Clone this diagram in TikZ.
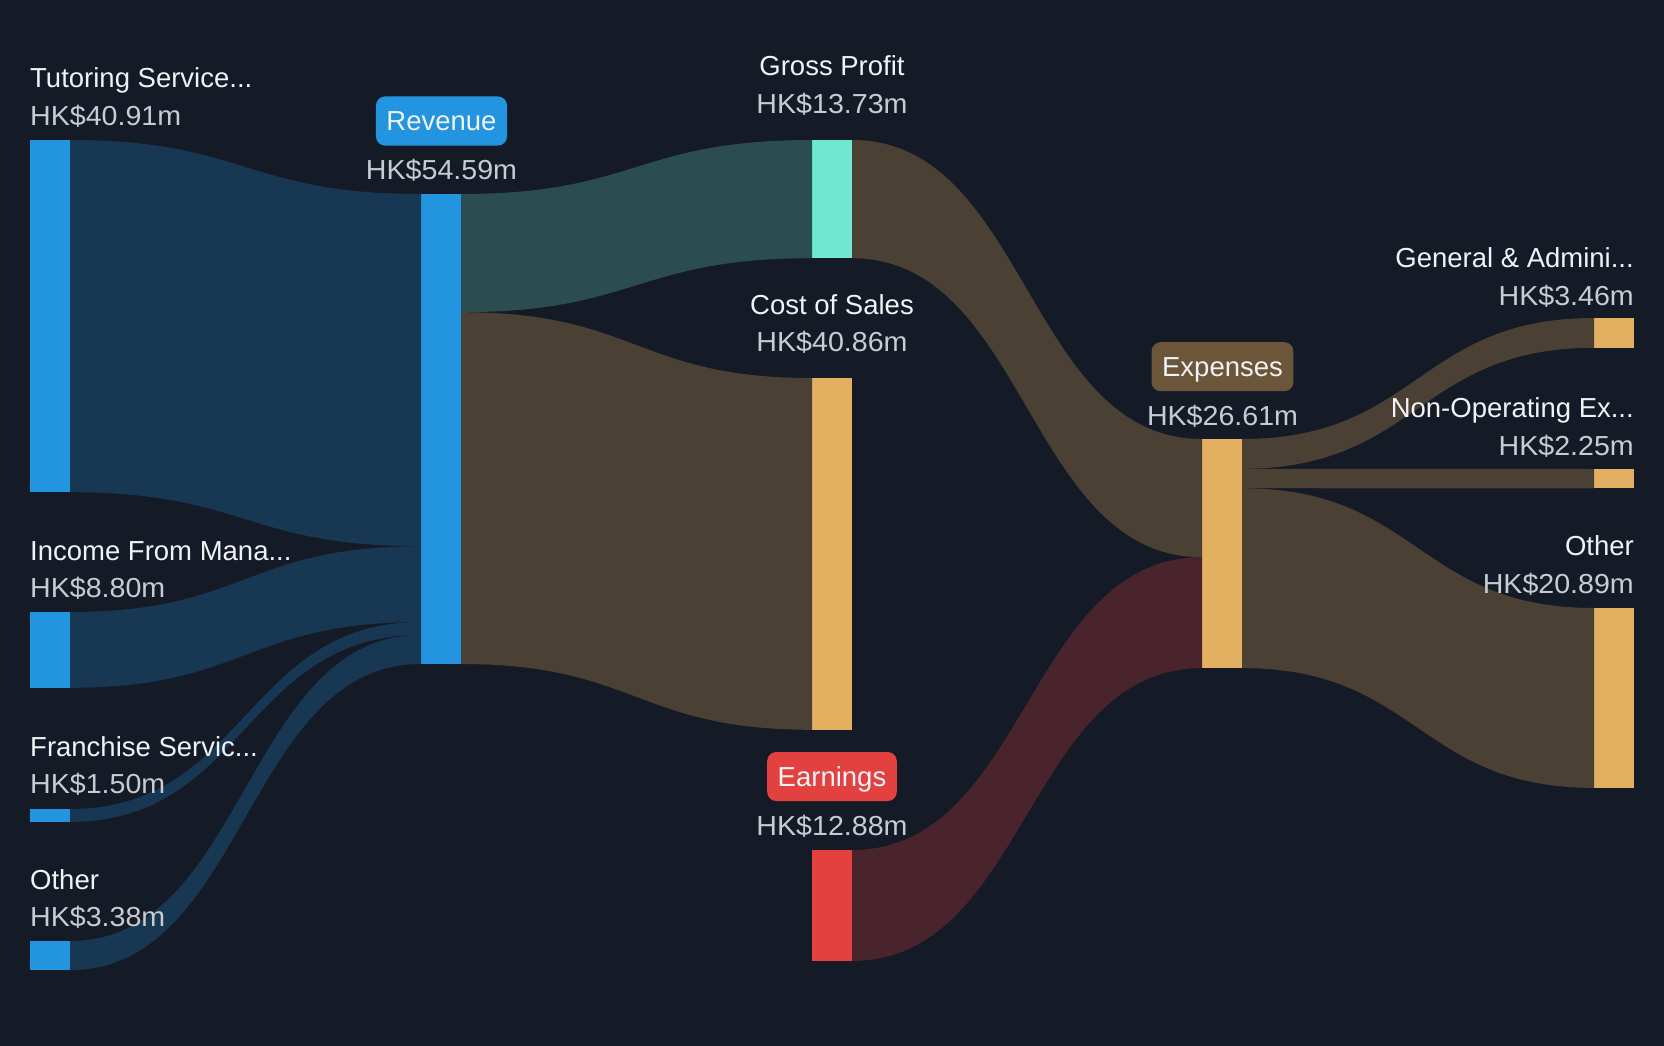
\documentclass[tikz,border=0pt]{standalone}
\usepackage{fontspec}
\setmainfont{Liberation Sans}
\newfontfamily\valfont[FakeStretch=1.04]{Liberation Sans}
\usetikzlibrary{calc}
\definecolor{bg}{HTML}{151B26}
\definecolor{bluebar}{HTML}{2394DF}
\definecolor{blueflow}{HTML}{183752}
\definecolor{tealbar}{HTML}{6EE7D3}
\definecolor{tealflow}{HTML}{2C4D50}
\definecolor{goldbar}{HTML}{E3B062}
\definecolor{brownflow}{HTML}{4A4033}
\definecolor{redbar}{HTML}{E34140}
\definecolor{redflow}{HTML}{4A242C}
\definecolor{expbox}{HTML}{6B563A}
\definecolor{ttlc}{HTML}{F0F2F5}
\definecolor{valc}{HTML}{C8CBD0}
% color, node A, offset on A, node B, offset on B, height
\newcommand\sflow[6]{%
  \fill[#1] let \p1=($(#2.north east)+(0,#3)$), \p2=($(#4.north west)+(0,#5)$),
    \p3=($(#2.north east)+(0,#3+#6)$), \p4=($(#4.north west)+(0,#5+#6)$) in
    (\p1) .. controls ({0.5*\x1+0.5*\x2},\y1) and ({0.5*\x1+0.5*\x2},\y2) .. (\p2)
    -- (\p4) .. controls ({0.5*\x1+0.5*\x2},\y4) and ({0.5*\x1+0.5*\x2},\y3) .. (\p3) -- cycle;}
\begin{document}
\begin{tikzpicture}[x=1pt,y=-1pt,
  bar/.style={rectangle,inner sep=0pt,outer sep=0pt,minimum width=40pt,anchor=north west},
  ttl/.style={inner sep=0pt,font=\fontsize{27.5}{33}\selectfont,text=ttlc},
  val/.style={inner sep=0pt,font=\valfont\fontsize{27.5}{33}\selectfont,text=valc},
  tag/.style={rectangle,rounded corners=9pt,inner xsep=10.5pt,inner ysep=0pt,
    minimum height=49pt,text height=19.7pt,text depth=0pt,text=ttlc,
    font=\fontsize{27.5}{33}\selectfont}]
\fill[bg] (0,0) rectangle (1664,1046);
\useasboundingbox (0,0) rectangle (1664,1046);
% bars
\node[bar,fill=bluebar,minimum height=352.2pt] (tut) at (30,140) {};
\node[bar,fill=bluebar,minimum height=75.8pt] (inc) at (30,612) {};
\node[bar,fill=bluebar,minimum height=12.9pt] (fra) at (30,809) {};
\node[bar,fill=bluebar,minimum height=29.1pt] (othL) at (30,941) {};
\node[bar,fill=bluebar,minimum height=470pt] (rev) at (421,194) {};
\node[bar,fill=tealbar,minimum height=118.2pt] (gp) at (812,140) {};
\node[bar,fill=goldbar,minimum height=351.8pt] (cos) at (812,378) {};
\node[bar,fill=redbar,minimum height=110.9pt] (ear) at (812,850) {};
\node[bar,fill=goldbar,minimum height=229.1pt] (exp) at (1202,439) {};
\node[bar,fill=goldbar,minimum height=29.8pt] (ga) at (1594,318) {};
\node[bar,fill=goldbar,minimum height=19.4pt] (nop) at (1594,469) {};
\node[bar,fill=goldbar,minimum height=179.9pt] (othR) at (1594,608) {};
% flows
\sflow{blueflow}{tut}{0}{rev}{0}{352.2}
\sflow{blueflow}{inc}{0}{rev}{352.2}{75.8}
\sflow{blueflow}{fra}{0}{rev}{428}{12.9}
\sflow{blueflow}{othL}{0}{rev}{440.9}{29.1}
\sflow{tealflow}{rev}{0}{gp}{0}{118.2}
\sflow{brownflow}{rev}{118.2}{cos}{0}{351.8}
\sflow{brownflow}{gp}{0}{exp}{0}{118.2}
\sflow{redflow}{ear}{0}{exp}{118.2}{110.9}
\sflow{brownflow}{exp}{0}{ga}{0}{29.8}
\sflow{brownflow}{exp}{29.8}{nop}{0}{19.4}
\sflow{brownflow}{exp}{49.2}{othR}{0}{179.9}
% left labels
\node[ttl,anchor=base west] (tutT) at (30,88) {Tutoring Service...};
\node[val,anchor=base west] (tutV) at (30,125.5) {HK\$40.91m};
\node[ttl,anchor=base west] (incT) at (30,560.5) {Income From Mana...};
\node[val,anchor=base west] (incV) at (30,597.5) {HK\$8.80m};
\node[ttl,anchor=base west] (fraT) at (30,756.5) {Franchise Servic...};
\node[val,anchor=base west] (fraV) at (30,793.5) {HK\$1.50m};
\node[ttl,anchor=base west] (othLT) at (30,889.5) {Other};
\node[val,anchor=base west] (othLV) at (30,926.5) {HK\$3.38m};
% middle labels
\node[tag,fill=bluebar] (revT) at (441.5,121) {Revenue};
\node[val,anchor=base] (revV) at (441.5,179.5) {HK\$54.59m};
\node[ttl,anchor=base] (gpT) at (832,75.5) {Gross Profit};
\node[val,anchor=base] (gpV) at (832,113.5) {HK\$13.73m};
\node[ttl,anchor=base] (cosT) at (832,314) {Cost of Sales};
\node[val,anchor=base] (cosV) at (832,351.5) {HK\$40.86m};
\node[tag,fill=redbar] (earT) at (832,776.5) {Earnings};
\node[val,anchor=base] (earV) at (832,835.5) {HK\$12.88m};
\node[tag,fill=expbox] (expT) at (1222.5,366.7) {Expenses};
\node[val,anchor=base] (expV) at (1222.5,425.5) {HK\$26.61m};
% right labels
\node[ttl,anchor=base east] (gaT) at (1634,267) {General \& Admini...};
\node[val,anchor=base east] (gaV) at (1634,305) {HK\$3.46m};
\node[ttl,anchor=base east] (nopT) at (1634,417) {Non-Operating Ex...};
\node[val,anchor=base east] (nopV) at (1634,455) {HK\$2.25m};
\node[ttl,anchor=base east] (othRT) at (1634,555.5) {Other};
\node[val,anchor=base east] (othRV) at (1634,593) {HK\$20.89m};
\end{tikzpicture}
\end{document}
